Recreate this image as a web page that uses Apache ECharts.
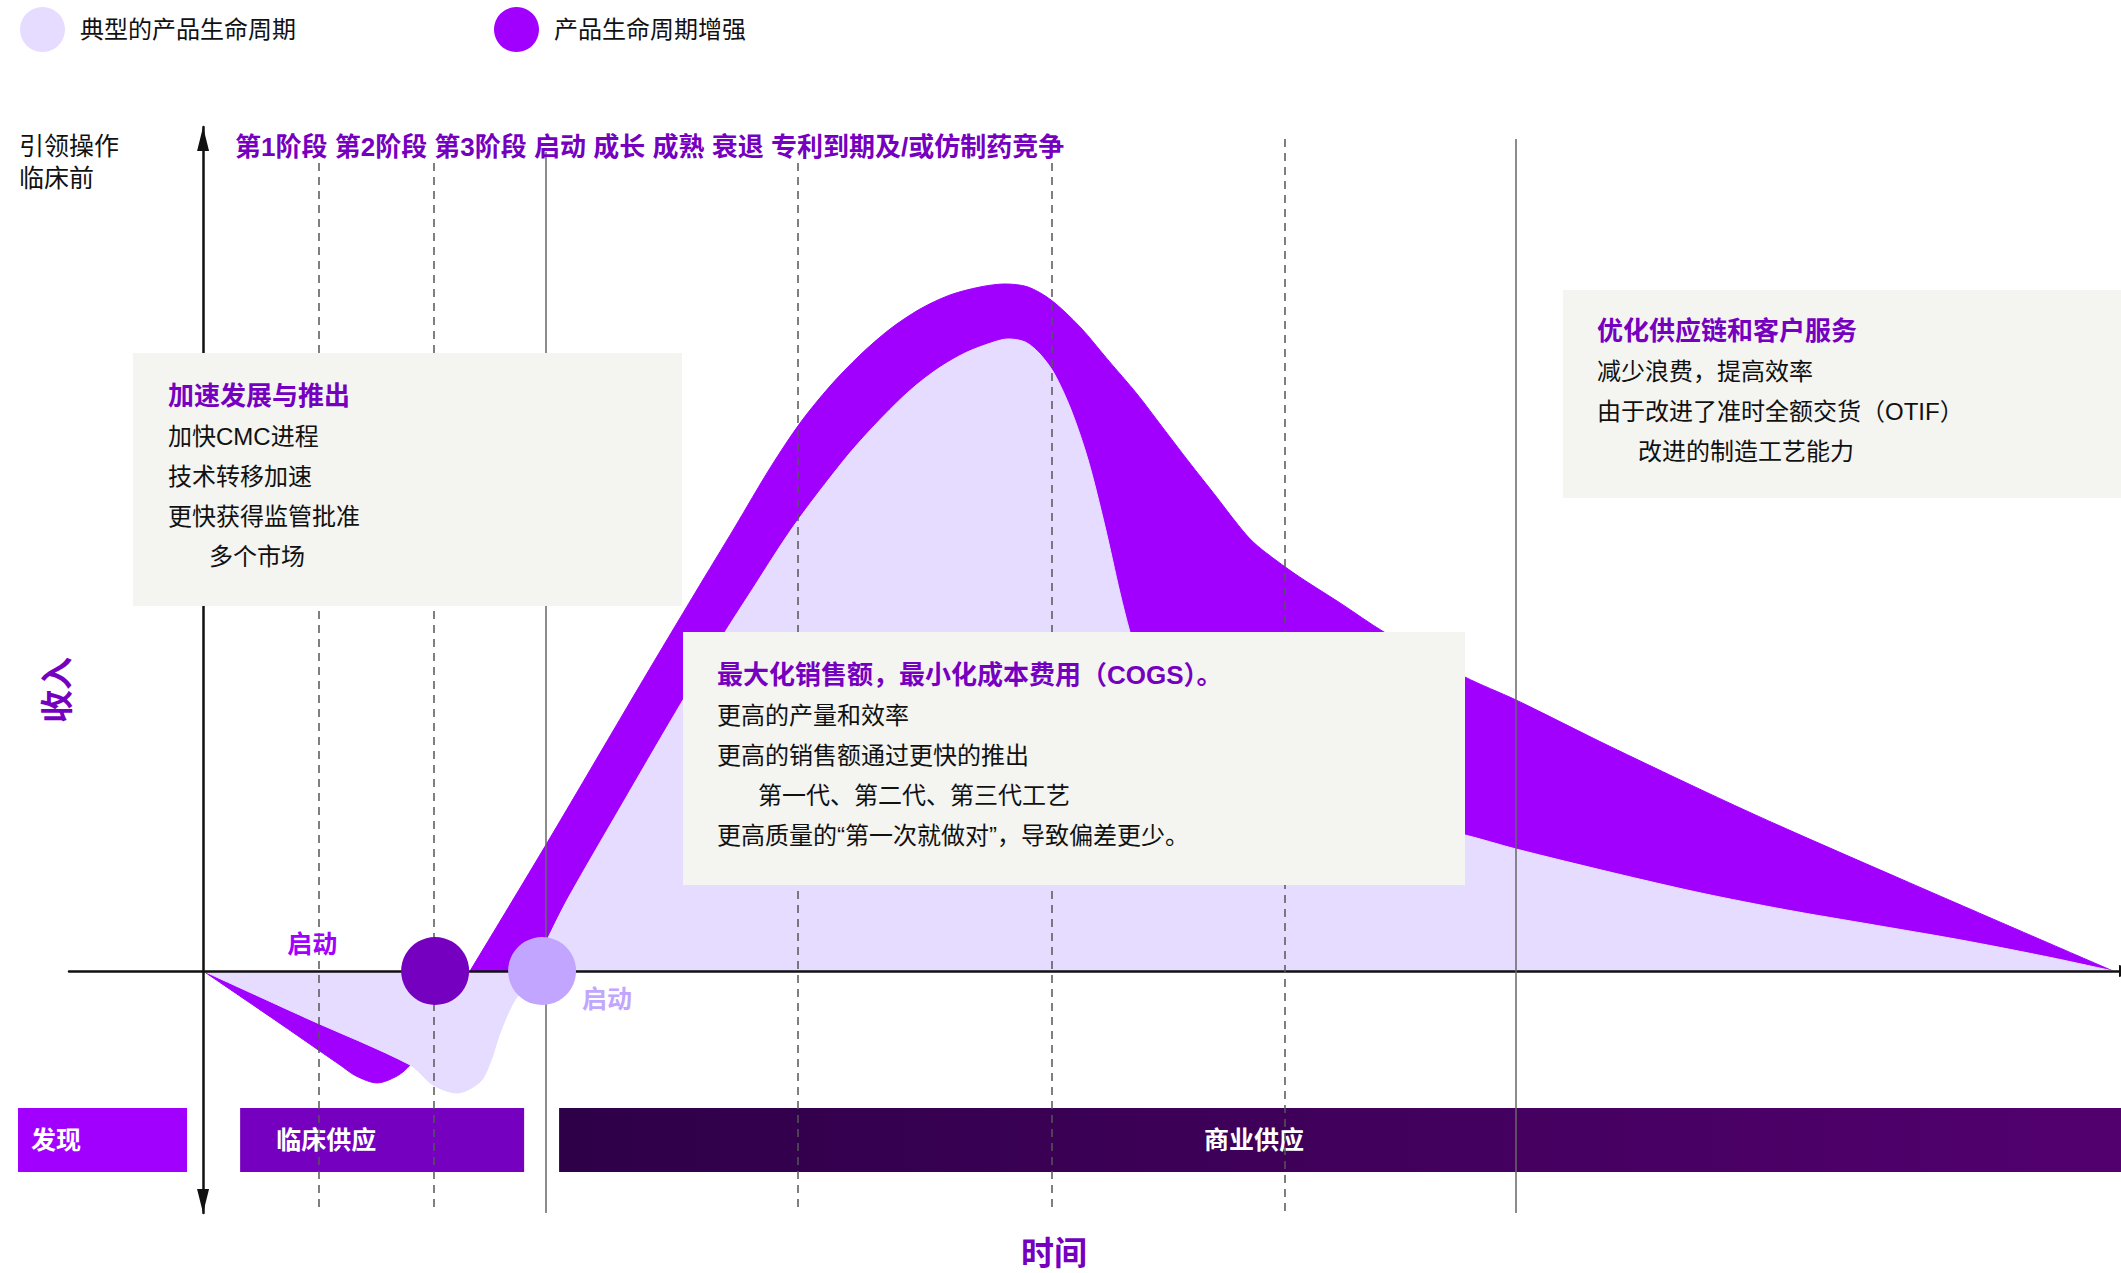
<!DOCTYPE html>
<html>
<head>
<meta charset="utf-8">
<script src="https://cdn.jsdelivr.net/npm/echarts@6/dist/echarts.min.js"></script>
<style>
html,body{margin:0;padding:0;background:#ffffff;}
#chart{width:2121px;height:1273px;}
</style>
</head>
<body>
<div id="chart"></div>
<script>
// ---------------- DATA ----------------
const legendNames = ['典型的产品生命周期', '产品生命周期增强'];

// typical lifecycle (time units, revenue units; peak of enhanced = 100)
const timeTypical = [0, 5.39, 10.84, 12.04, 13.30, 14.50, 15.03, 15.55, 16.23, 16.96,
  18.01, 19.06, 21.83, 25.13, 27.33, 28.64, 30.89, 33.56, 35.08, 36.86,
  38.38, 39.90, 41.41, 42.15, 43.04, 43.77, 44.55, 45.45, 46.34, 47.23,
  48.01, 48.53, 49.58, 51.15, 53.77, 57.43, 61.62, 66.07, 68.74, 73.87,
  78.43, 82.93, 87.49, 92.04, 96.60, 100];
const revenueTypical = [0, -6.84, -13.68, -16.59, -17.76, -16.16, -13.39, -9.02, -4.66, -1.75,
  4.51, 10.33, 23.73, 39.45, 49.34, 55.02, 64.63, 74.38, 79.18, 84.13,
  87.48, 89.96, 91.56, 92.00, 91.56, 89.96, 87.05, 81.66, 74.38, 64.63,
  55.02, 49.34, 39.45, 32.90, 28.53, 25.33, 22.56, 19.80, 17.76, 14.26,
  11.35, 8.88, 6.70, 4.51, 2.04, 0];

// enhanced lifecycle
const timeEnhanced = [0, 3.61, 7.17, 8.01, 9.11, 10.16, 10.84, 11.62, 12.83, 13.98,
  18.01, 23.04, 25.76, 27.85, 29.69, 31.26, 32.83, 34.40, 35.97, 37.54,
  39.11, 40.68, 41.99, 43.19, 44.40, 45.92, 47.38, 48.90, 50.26, 51.62,
  52.98, 54.03, 54.82, 55.60, 57.33, 59.53, 61.83, 66.07, 68.74, 73.72,
  81.05, 89.01, 100];
const revenueEnhanced = [0, -6.84, -13.68, -15.28, -16.30, -15.28, -13.68, -10.33, -5.24, 0,
  18.63, 42.36, 55.02, 64.63, 73.22, 79.77, 85.15, 89.67, 93.45, 96.36,
  98.40, 99.56, 100, 99.56, 97.67, 93.74, 88.94, 83.99, 79.04, 74.09,
  69.29, 65.50, 62.88, 60.99, 57.50, 53.57, 49.34, 42.79, 39.45, 32.61,
  23.00, 13.25, 0];

// launch points (enhanced, typical)
const launchTimes = [12.15, 17.75];
const launchLabels = ['启动', '启动'];

// stage header
const stageLabels = ['第1阶段', '第2阶段', '第3阶段', '启动', '成长', '成熟', '衰退', '专利到期及/或仿制药竞争'];

// phase boundary lines
const phaseBoundaryTimes = [6.07, 12.09, 17.96, 31.15, 44.45, 56.65, 68.74];
const phaseBoundaryDashed = [true, true, false, true, true, true, false];

// supply phases
const supplyNames = ['发现', '临床供应', '商业供应'];
const supplyStart = [-9.69, 1.94, 18.64];
const supplyEnd = [-0.84, 16.81, 100.42];

// text boxes
const box1Title = '加速发展与推出';
const box1Lines = ['加快CMC进程', '技术转移加速', '更快获得监管批准', '多个市场'];
const box1Indent = [false, false, false, true];
const box2Title = '最大化销售额，最小化成本费用（COGS）。';
const box2Lines = ['更高的产量和效率', '更高的销售额通过更快的推出', '第一代、第二代、第三代工艺', '更高质量的“第一次就做对”，导致偏差更少。'];
const box2Indent = [false, false, true, false];
const box3Title = '优化供应链和客户服务';
const box3Lines = ['减少浪费，提高效率', '由于改进了准时全额交货（OTIF）', '改进的制造工艺能力'];
const box3Indent = [false, false, true];

const yAxisTitle = '收入';
const xAxisTitle = '时间';
const leftCaption = '引领操作\n临床前';

// ---------------- LAYOUT / STYLE ----------------
const FONT = "'Liberation Sans', 'Noto Sans CJK SC', sans-serif";
const C_PURPLE = '#A100FF';
const C_DARK = '#7500C0';
const C_LIGHT = '#E6DCFF';
const C_LAUNCH_LIGHT = '#C2A5FF';
const C_BOX = '#F4F4F0';
const C_TEXT = '#111111';

const GRID = {left: 69, top: 127, width: 2052, height: 1086};
const X_MIN = -7.02, X_MAX = 100.42, Y_MIN = -35.23, Y_MAX = 122.85;
const PX_PER_Y = GRID.height / (Y_MAX - Y_MIN);
function yFromPx(py) { return Y_MAX - (py - GRID.top) / PX_PER_Y; }

const BOUNDARY_TOP_PX = [163, 163, 152, 163, 163, 139, 139];
const BAR_TOP = 1108, BAR_H = 64;
const SUPPLY_LABEL_DX = [13, 36, 645];
const SUPPLY_FILLS = [
  C_PURPLE,
  C_DARK,
  new echarts.graphic.LinearGradient(0, 0, 1, 0, [
    {offset: 0, color: '#2E0048'}, {offset: 1, color: '#53006F'}
  ])
];

function zip(a, b) { return a.map((v, i) => [v, b[i]]); }

function boxGraphics(rect, title, lines, indents) {
  const els = [{
    type: 'rect', z: 100, silent: true,
    shape: {x: rect.x, y: rect.y, width: rect.w, height: rect.h},
    style: {fill: C_BOX}
  }, {
    type: 'text', z: 101, silent: true,
    style: {text: title, x: rect.tx, y: rect.ty, fill: C_DARK, fontSize: 26, fontWeight: 'bold',
      fontFamily: FONT, align: 'left', verticalAlign: 'middle'}
  }];
  lines.forEach((t, i) => {
    els.push({
      type: 'text', z: 101, silent: true,
      style: {text: t, x: rect.tx + (indents[i] ? 41 : 0), y: rect.ty + 40 + 40 * i, fill: C_TEXT,
        fontSize: 24, fontFamily: FONT, align: 'left', verticalAlign: 'middle'}
    });
  });
  return els;
}

const graphics = [].concat(
  boxGraphics({x: 133, y: 353, w: 549, h: 253, tx: 168, ty: 396}, box1Title, box1Lines, box1Indent),
  boxGraphics({x: 683, y: 632, w: 782, h: 253, tx: 717, ty: 675}, box2Title, box2Lines, box2Indent),
  boxGraphics({x: 1563, y: 290, w: 560, h: 208, tx: 1597, ty: 331}, box3Title, box3Lines, box3Indent),
  [
    {type: 'text', z: 101, silent: true,
      style: {text: stageLabels.join(' '), x: 235, y: 147, fill: C_DARK, fontSize: 26, fontWeight: 'bold',
        fontFamily: FONT, align: 'left', verticalAlign: 'middle'}},
    {type: 'text', z: 101, silent: true,
      style: {text: leftCaption, x: 19, y: 162, fill: C_TEXT, fontSize: 25, lineHeight: 32,
        fontFamily: FONT, align: 'left', verticalAlign: 'middle'}},
    {type: 'text', z: 101, silent: true, x: 57, y: 690, rotation: Math.PI / 2,
      style: {text: yAxisTitle, x: 0, y: 0, fill: C_DARK, fontSize: 33, fontWeight: 'bold',
        fontFamily: FONT, align: 'center', verticalAlign: 'middle'}},
    {type: 'text', z: 101, silent: true,
      style: {text: xAxisTitle, x: 1054, y: 1253, fill: C_DARK, fontSize: 33, fontWeight: 'bold',
        fontFamily: FONT, align: 'center', verticalAlign: 'middle'}}
  ]
);

const DASH = {type: [8, 6], color: '#555555', width: 1.5};
const SOLID = {type: 'solid', color: '#666666', width: 1.5};

const option = {
  animation: false,
  backgroundColor: '#ffffff',
  legend: {
    data: legendNames,
    left: 20, top: 7, padding: 0,
    icon: 'circle',
    itemWidth: 45, itemHeight: 45,
    itemGap: 198,
    selectedMode: false,
    itemStyle: {borderWidth: 0},
    textStyle: {fontSize: 24, color: C_TEXT, fontFamily: FONT, padding: [0, 0, 0, 10]}
  },
  grid: Object.assign({outerBoundsMode: 'none', containLabel: false}, GRID),
  xAxis: {
    type: 'value', min: X_MIN, max: X_MAX, z: 4,
    axisLine: {show: true, onZero: true, symbol: ['none', 'triangle'], symbolSize: [12, 22], symbolOffset: [0, 9],
      lineStyle: {color: '#111111', width: 2.5}},
    axisTick: {show: false}, axisLabel: {show: false}, splitLine: {show: false}
  },
  yAxis: {
    type: 'value', min: Y_MIN, max: Y_MAX, z: 4,
    axisLine: {show: true, onZero: true, symbol: ['triangle', 'triangle'], symbolSize: [12, 24], symbolOffset: [12, -12],
      lineStyle: {color: '#111111', width: 2.5}},
    axisTick: {show: false}, axisLabel: {show: false}, splitLine: {show: false}
  },
  graphic: graphics,
  series: [
    {
      name: legendNames[1], type: 'line', z: 2, silent: true,
      data: zip(timeEnhanced, revenueEnhanced),
      smooth: 0.3, showSymbol: false, symbol: 'none',
      itemStyle: {color: C_PURPLE},
      lineStyle: {color: C_PURPLE, width: 1},
      areaStyle: {color: C_PURPLE, opacity: 1}
    },
    {
      name: legendNames[0], type: 'line', z: 3, silent: true,
      data: zip(timeTypical, revenueTypical),
      smooth: 0.3, showSymbol: false, symbol: 'none',
      itemStyle: {color: C_LIGHT},
      lineStyle: {color: C_LIGHT, width: 1},
      areaStyle: {color: C_LIGHT, opacity: 1}
    },
    {
      type: 'custom', z: 3, silent: true, clip: false,
      data: zip(supplyStart, supplyEnd),
      renderItem: function (params, api) {
        const i = params.dataIndex;
        const p0 = api.coord([api.value(0), 0]);
        const p1 = api.coord([api.value(1), 0]);
        return {
          type: 'group',
          children: [
            {type: 'rect', shape: {x: p0[0], y: BAR_TOP, width: p1[0] - p0[0], height: BAR_H},
              style: {fill: SUPPLY_FILLS[i]}},
            {type: 'text', style: {text: supplyNames[i], x: p0[0] + SUPPLY_LABEL_DX[i], y: BAR_TOP + BAR_H / 2,
              fill: '#ffffff', fontSize: 25, fontWeight: 'bold', fontFamily: FONT, align: 'left', verticalAlign: 'middle'}}
          ]
        };
      }
    },
    {
      type: 'line', z: 5, silent: true, data: [],
      markLine: {
        silent: true, z: 5, animation: false,
        symbol: ['none', 'none'],
        label: {show: false},
        emphasis: {disabled: true},
        data: phaseBoundaryTimes.map((t, i) => [
          {coord: [t, yFromPx(BOUNDARY_TOP_PX[i])], lineStyle: phaseBoundaryDashed[i] ? DASH : SOLID},
          {coord: [t, Y_MIN]}
        ])
      }
    },
    {
      type: 'scatter', z: 6, silent: true,
      symbolSize: 68,
      itemStyle: {opacity: 1},
      data: [
        {value: [launchTimes[0], 0], itemStyle: {color: C_DARK, opacity: 1},
          label: {show: true, formatter: launchLabels[0], position: [-89, 7], align: 'center', verticalAlign: 'middle',
            color: C_PURPLE, fontSize: 25, fontWeight: 'bold', fontFamily: FONT}},
        {value: [launchTimes[1], 0], itemStyle: {color: C_LAUNCH_LIGHT, opacity: 1},
          label: {show: true, formatter: launchLabels[1], position: [99, 62], align: 'center', verticalAlign: 'middle',
            color: C_LAUNCH_LIGHT, fontSize: 25, fontWeight: 'bold', fontFamily: FONT}}
      ]
    }
  ]
};

const chart = echarts.init(document.getElementById('chart'), null, {renderer: 'svg', width: 2121, height: 1273});
chart.setOption(option);
</script>
</body>
</html>
